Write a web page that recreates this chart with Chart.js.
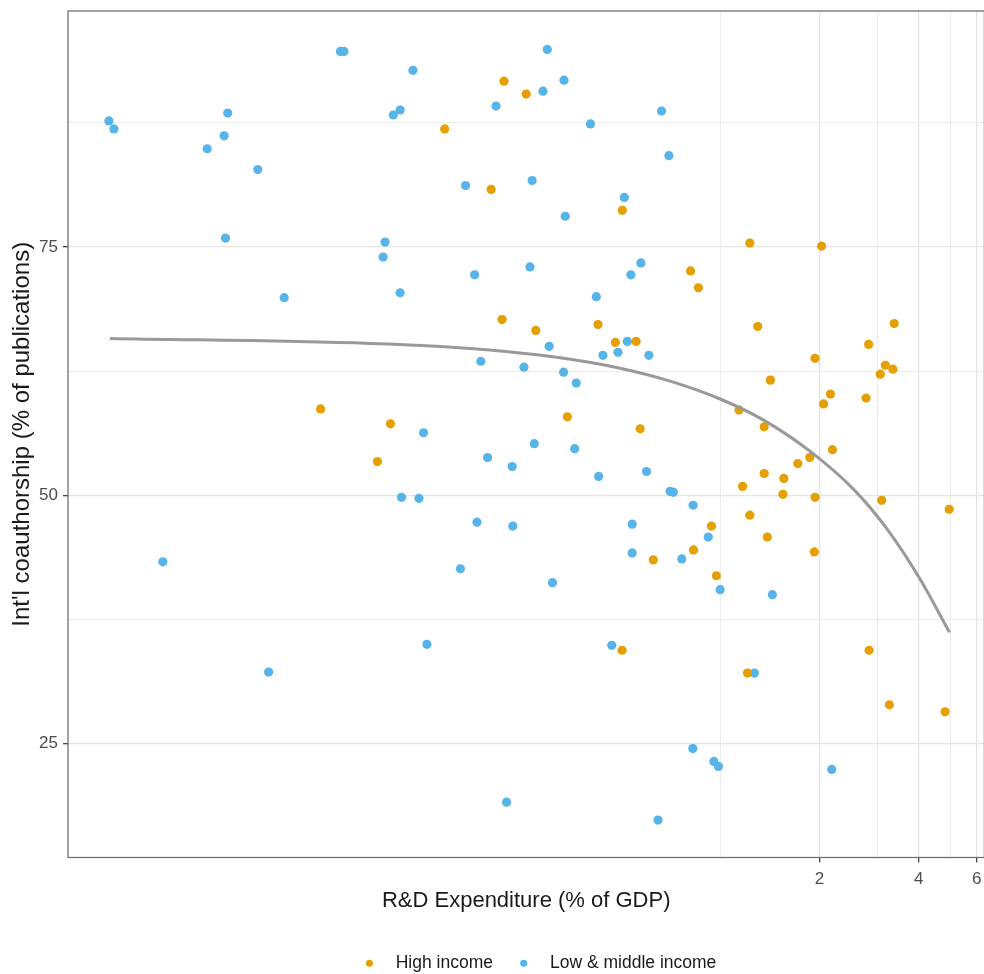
<!DOCTYPE html>
<html lang="en">
<head>
  <meta charset="UTF-8">
  <title>R&D Expenditure vs Int'l coauthorship</title>
  <script src="https://cdn.jsdelivr.net/npm/chart.js"></script>
  <style>
    body {
      margin: 0;
      padding: 0;
      background: #fff;
      overflow: hidden;
    }
    /* a touch wider/taller than the window so the panel runs to the right edge */
    .chart-box {
      position: relative;
      width: 989px;
      height: 982px;
    }
  </style>
</head>
<body>
  <div class="chart-box">
    <canvas id="scatter"></canvas>
  </div>
  <script>
    // High income countries: R&D (% of GDP) and int'l coauthorship (%)
    const highX = [0.0614, 0.0913, 0.100, 0.146, 0.202, 0.218, 0.221, 0.258, 0.276, 0.344,
      0.426, 0.481, 0.505, 0.504, 0.556, 0.572, 0.627, 0.813, 0.830, 0.859,
      0.941, 0.974, 1.14, 1.17, 1.21, 1.23, 1.23, 1.30, 1.36, 1.36,
      1.39, 1.42, 1.55, 1.56, 1.72, 1.87, 1.93, 1.94, 1.94, 2.03,
      2.06, 2.16, 2.19, 2.77, 2.82, 2.83, 3.06, 3.09, 3.17, 3.26,
      3.34, 3.37, 4.81, 4.95];
    const highY = [58.7, 53.4, 57.2, 86.9, 80.8, 67.7, 91.7, 90.4, 66.6, 57.9,
      67.2, 65.4, 78.7, 34.4, 65.5, 56.7, 43.5, 72.6, 44.5, 70.9,
      46.9, 41.9, 58.6, 50.9, 32.1, 75.4, 48.0, 67.0, 56.9, 52.2,
      45.8, 61.6, 50.1, 51.7, 53.2, 53.8, 44.3, 63.8, 49.8, 75.1,
      59.2, 60.2, 54.6, 59.8, 65.2, 34.4, 62.2, 49.5, 63.1, 28.9,
      62.7, 67.3, 28.2, 48.6];

    // Low & middle income countries
    const lowX = [0.0140, 0.0145, 0.0204, 0.0278, 0.0313, 0.0316, 0.0321, 0.0396, 0.0427, 0.0476,
      0.0705, 0.0723, 0.0950, 0.0963, 0.102, 0.107, 0.107, 0.108, 0.117, 0.122,
      0.126, 0.129, 0.163, 0.169, 0.180, 0.183, 0.188, 0.197, 0.209, 0.225,
      0.234, 0.235, 0.254, 0.265, 0.269, 0.273, 0.290, 0.299, 0.303, 0.310,
      0.335, 0.336, 0.339, 0.362, 0.366, 0.404, 0.421, 0.428, 0.441, 0.469,
      0.490, 0.512, 0.523, 0.536, 0.541, 0.541, 0.575, 0.598, 0.608, 0.648,
      0.664, 0.699, 0.705, 0.721, 0.765, 0.826, 0.828, 0.920, 0.957, 0.988,
      1.00, 1.27, 1.44, 2.18];
    const lowY = [87.7, 86.9, 43.3, 84.9, 86.2, 75.9, 88.5, 82.8, 32.2, 69.9,
      94.7, 94.7, 74.0, 75.5, 88.3, 88.8, 70.4, 49.8, 92.8, 49.7,
      56.3, 35.0, 42.6, 81.2, 72.2, 47.3, 63.5, 53.8, 89.2, 19.1,
      52.9, 46.9, 62.9, 73.0, 81.7, 55.2, 90.7, 94.9, 65.0, 41.2,
      62.4, 91.8, 78.1, 54.7, 61.3, 87.4, 70.0, 51.9, 64.1, 34.9,
      64.4, 80.0, 65.5, 72.2, 47.1, 44.2, 73.4, 52.4, 64.1, 17.3,
      88.7, 84.2, 50.4, 50.3, 43.6, 24.5, 49.0, 45.8, 23.2, 22.7,
      40.5, 32.1, 40.0, 22.4];

    // Fitted trend
    const fitX = [0.0141, 0.0867, 0.138, 0.220, 0.351, 0.497, 0.705, 1.00, 1.35, 1.88, 2.54, 3.21, 4.05, 4.96];
    const fitY = [65.8, 65.3, 65.0, 64.5, 63.7, 62.8, 61.5, 59.7, 57.6, 54.4, 50.6, 46.6, 41.5, 36.2];

    // Axis breaks
    const xTicks = [1, 2, 3, 4, 5, 6];
    const xLabelled = [2, 4, 6];
    const yTicks = [25, 37.5, 50, 62.5, 75, 87.5];
    const yLabelled = [25, 50, 75];

    const toPoints = (xs, ys) => xs.map((x, i) => ({ x: x, y: ys[i] }));

    const fontFamily = "'Liberation Sans', Arial, Helvetica, sans-serif";

    // Panel border like ggplot's theme_bw
    const panelBorder = {
      id: 'panelBorder',
      afterDraw(chart) {
        const { ctx, chartArea } = chart;
        ctx.save();
        ctx.strokeStyle = '#707070';
        ctx.lineWidth = 1.3;
        ctx.strokeRect(chartArea.left, chartArea.top, chartArea.right - chartArea.left, chartArea.bottom - chartArea.top);
        ctx.restore();
      }
    };

    // Nudge legend to sit under the panel centre
    const legendShift = {
      id: 'legendShift',
      afterLayout(chart) {
        const dx = 44;
        chart.legend.left += dx;
        chart.legend.right += dx;
      }
    };

    new Chart(document.getElementById('scatter'), {
      type: 'scatter',
      data: {
        datasets: [
          {
            label: 'fit',
            type: 'line',
            data: toPoints(fitX, fitY),
            borderColor: '#999999',
            borderWidth: 3,
            pointRadius: 0,
            fill: false,
            cubicInterpolationMode: 'monotone',
            order: -1
          },
          {
            label: 'High income',
            data: toPoints(highX, highY),
            backgroundColor: '#E69F00',
            borderWidth: 0,
            pointRadius: 4.6
          },
          {
            label: 'Low & middle income',
            data: toPoints(lowX, lowY),
            backgroundColor: '#56B4E9',
            borderWidth: 0,
            pointRadius: 4.6
          }
        ]
      },
      options: {
        responsive: true,
        maintainAspectRatio: false,
        animation: false,
        layout: { padding: { top: 11, right: 0, bottom: 0, left: 0 } },
        plugins: {
          tooltip: { enabled: false },
          legend: {
            position: 'bottom',
            labels: {
              // drop the trend line and leave a gap after each key dot
              generateLabels: chart => Chart.defaults.plugins.legend.labels.generateLabels(chart)
                .filter(item => item.datasetIndex !== 0)
                .map(item => Object.assign(item, { text: '\u2002' + item.text })),
              usePointStyle: true,
              pointStyle: 'circle',
              boxHeight: 5,
              padding: 22,
              color: '#1a1a1a',
              font: { family: fontFamily, size: 17.5 }
            }
          }
        },
        scales: {
          x: {
            type: 'logarithmic',
            min: 0.01052,
            max: 6.33,
            afterBuildTicks: scale => { scale.ticks = xTicks.map(v => ({ value: v })); },
            afterFit: scale => { scale.height = 75; },
            ticks: {
              autoSkip: false,
              maxRotation: 0,
              padding: 7,
              color: '#4d4d4d',
              font: { family: fontFamily, size: 17 },
              callback: value => xLabelled.includes(value) ? String(value) : ''
            },
            grid: {
              drawTicks: true,
              tickLength: 5,
              color: ctx => xLabelled.includes(ctx.tick && ctx.tick.value) ? '#e4e4e4' : '#ececec',
              lineWidth: ctx => xLabelled.includes(ctx.tick && ctx.tick.value) ? 1.3 : 1,
              tickColor: ctx => xLabelled.includes(ctx.tick && ctx.tick.value) ? '#444' : 'rgba(0,0,0,0)'
            },
            border: { display: false },
            title: {
              display: true,
              text: 'R&D Expenditure (% of GDP)',
              color: '#1a1a1a',
              font: { family: fontFamily, size: 22 },
              padding: { top: 0, bottom: 18 }
            }
          },
          y: {
            min: 13.53,
            max: 98.77,
            afterBuildTicks: scale => { scale.ticks = yTicks.map(v => ({ value: v })); },
            afterFit: scale => {
              scale.width = 68;
              scale.paddingTop = 0;
              scale.paddingBottom = 0;
            },
            ticks: {
              padding: 5,
              color: '#4d4d4d',
              font: { family: fontFamily, size: 17 },
              callback: value => yLabelled.includes(value) ? String(value) : ''
            },
            grid: {
              drawTicks: true,
              tickLength: 5,
              color: ctx => yLabelled.includes(ctx.tick && ctx.tick.value) ? '#e4e4e4' : '#ececec',
              lineWidth: ctx => yLabelled.includes(ctx.tick && ctx.tick.value) ? 1.3 : 1,
              tickColor: ctx => yLabelled.includes(ctx.tick && ctx.tick.value) ? '#444' : 'rgba(0,0,0,0)'
            },
            border: { display: false },
            title: {
              display: true,
              text: "Int'l coauthorship (% of publications)",
              color: '#1a1a1a',
              font: { family: fontFamily, size: 24 },
              padding: { top: 8, bottom: 0 }
            }
          }
        }
      },
      plugins: [panelBorder, legendShift]
    });
  </script>
</body>
</html>
